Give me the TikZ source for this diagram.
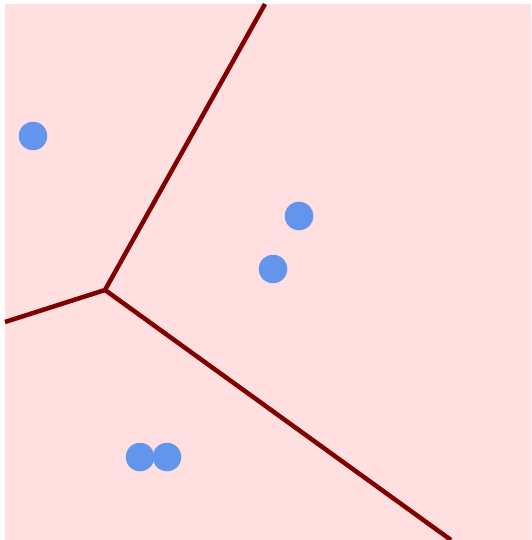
\documentclass[tikz,border=0pt]{standalone}
\usepackage{tikz}
\definecolor{cellbg}{HTML}{FFDFDF}
\definecolor{edgec}{HTML}{800000}
\definecolor{site}{HTML}{6495ED}

\begin{document}
\begin{tikzpicture}[x=0.02cm, y=-0.02cm,
    st/.style={circle, fill=site, minimum size=0.57cm, inner sep=0pt},
    ed/.style={draw=edgec, line width=0.09cm}]

  \useasboundingbox (0,0) rectangle (531,540);
  \fill[cellbg] (5,4) rectangle (531,540);

  % ── Voronoi edges: one vertex, three rays to the border ──
  \coordinate (v)  at (105,290);
  \coordinate (et) at (265,4);
  \coordinate (el) at (5,322);
  \coordinate (eb) at (451,540);
  \draw[ed] (v)--(et); \draw[ed] (v)--(el); \draw[ed] (v)--(eb);

  % ── sites ──
  \node[st] (s1) at (33,136)  {};
  \node[st] (s2) at (299,216) {};
  \node[st] (s3) at (273,269) {};
  \node[st] (s4) at (140,457) {};
  \node[st] (s5) at (167,457) {};
\end{tikzpicture}
\end{document}
